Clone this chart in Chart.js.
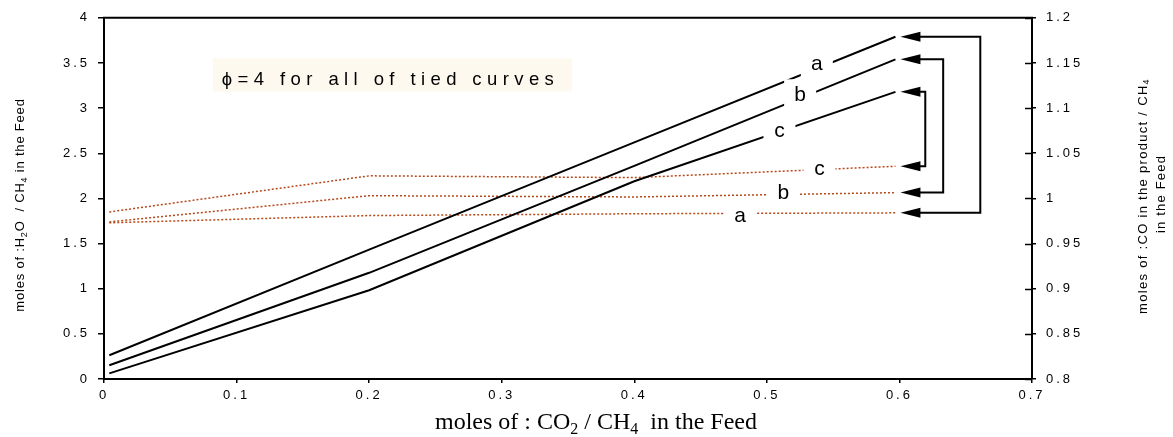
<!DOCTYPE html>
<html>
<head>
<meta charset="utf-8">
<title>CO2 / CH4 feed ratio</title>
<script src="https://cdn.jsdelivr.net/npm/chart.js@4.4.1/dist/chart.umd.min.js"></script>
<style>
  html, body { margin: 0; padding: 0; background: #fff; }
  canvas { display: block; }
</style>
</head>
<body>
<canvas id="chart" width="1173" height="437"></canvas>
<script>
const feedRatio = [0.004, 0.2, 0.4, 0.597];
const waterA = [0.263, 1.432, 2.62, 3.79];
const waterB = [0.153, 1.176, 2.36, 3.54];
const waterC = [0.062, 0.983, 2.19, 3.18];
const coA = [0.973, 0.981, 0.983, 0.984];
const coB = [0.974, 1.003, 1.0016, 1.0064];
const coC = [0.985, 1.025, 1.023, 1.0356];
const curveNames = ["a", "b", "c"];

const xTickValues = [0, 0.1, 0.2, 0.3, 0.4, 0.5, 0.6, 0.7];
const leftTickValues = [0, 0.5, 1, 1.5, 2, 2.5, 3, 3.5, 4];
const rightTickValues = [0.8, 0.85, 0.9, 0.95, 1, 1.05, 1.1, 1.15, 1.2];

const SANS = "'Liberation Sans', Arial, sans-serif";
const SERIF = "'Liberation Serif', 'Times New Roman', serif";
const DOT_COLOR = "#b8481a";

function el(id) {
  return document.getElementById(id);
}

function points(ys) {
  return feedRatio.map((x, i) => ({ x, y: ys[i] }));
}

function fmt(v) {
  return String(Math.round(v * 100) / 100);
}

function fixedTicks(values) {
  return (scale) => {
    scale.ticks = values.map((v) => ({ value: v }));
  };
}

// label anchors in data units; the boxes blank out the curves under them
const curveLabels = [
  { text: curveNames[0], axis: "y", x: 0.5377, y: 3.488 },
  { text: curveNames[1], axis: "y", x: 0.5251, y: 3.142 },
  { text: curveNames[2], axis: "y", x: 0.5095, y: 2.74 },
  { text: curveNames[2], axis: "y2", x: 0.5397, y: 1.032 },
  { text: curveNames[1], axis: "y2", x: 0.5125, y: 1.0057 },
  { text: curveNames[0], axis: "y2", x: 0.4798, y: 0.9808 },
];

// solid dataset -> dotted dataset, x of the vertical connector
const brackets = [
  { from: 0, to: 3, x: 0.661 },
  { from: 1, to: 4, x: 0.633 },
  { from: 2, to: 5, x: 0.6195 },
];

function drawRich(ctx, parts, cx, baseY, size, family, spacing) {
  const subSize = Math.round(size * 0.68);
  ctx.letterSpacing = spacing + "px";
  let total = 0;
  const widths = parts.map((p) => {
    ctx.font = `${p.sub ? subSize : size}px ${family}`;
    const w = ctx.measureText(p.t).width;
    total += w;
    return w;
  });
  let x = cx - total / 2;
  ctx.textAlign = "left";
  ctx.textBaseline = "alphabetic";
  parts.forEach((p, i) => {
    ctx.font = `${p.sub ? subSize : size}px ${family}`;
    ctx.fillText(p.t, x, p.sub ? baseY + size * 0.22 : baseY);
    x += widths[i];
  });
}

function drawArrowHead(ctx, tipX, y) {
  ctx.beginPath();
  ctx.moveTo(tipX, y);
  ctx.lineTo(tipX + 20, y - 5);
  ctx.lineTo(tipX + 20, y + 5);
  ctx.closePath();
  ctx.fill();
}

const plotDecor = {
  id: "plotDecor",
  beforeDraw(chart) {
    chart.ctx.letterSpacing = "3px";
  },
  beforeDatasetsDraw(chart) {
    const { ctx, scales } = chart;
    const xs = scales.x;
    const ys = scales.y;
    const left = xs.getPixelForValue(0.0821);
    const right = xs.getPixelForValue(0.3531);
    const top = ys.getPixelForValue(3.551);
    const bottom = ys.getPixelForValue(3.184);
    ctx.save();
    ctx.fillStyle = "#fdf9ef";
    ctx.fillRect(left, top, right - left, bottom - top);
    ctx.fillStyle = "#000";
    ctx.letterSpacing = "5.4px";
    ctx.font = `18.5px ${SANS}`;
    ctx.textAlign = "left";
    ctx.textBaseline = "alphabetic";
    ctx.fillText("ϕ=4 for all of tied curves", xs.getPixelForValue(0.0889), ys.getPixelForValue(3.255));
    ctx.restore();
  },
  afterDatasetsDraw(chart) {
    const { ctx, scales } = chart;
    ctx.save();
    ctx.letterSpacing = "0px";
    ctx.font = `21px ${SANS}`;
    ctx.textAlign = "center";
    ctx.textBaseline = "middle";
    for (const lb of curveLabels) {
      const px = scales.x.getPixelForValue(lb.x);
      const py = scales[lb.axis].getPixelForValue(lb.y);
      ctx.fillStyle = "#fff";
      ctx.fillRect(px - 16, py - 16, 32, 34);
      ctx.fillStyle = "#000";
      ctx.fillText(lb.text, px, py);
    }
    ctx.restore();
  },
  afterDraw(chart) {
    const { ctx, chartArea, scales } = chart;
    ctx.save();
    ctx.letterSpacing = "0px";
    ctx.strokeStyle = "#000";
    ctx.fillStyle = "#000";

    ctx.lineWidth = 2;
    ctx.beginPath();
    ctx.moveTo(chartArea.left - 1, chartArea.top);
    ctx.lineTo(chartArea.right + 1, chartArea.top);
    ctx.stroke();

    ctx.lineWidth = 1.5;
    for (const v of rightTickValues) {
      const y = Math.round(scales.y2.getPixelForValue(v)) + 0.5;
      ctx.beginPath();
      ctx.moveTo(chartArea.right - 7, y);
      ctx.lineTo(chartArea.right, y);
      ctx.stroke();
    }

    const tipX = scales.x.getPixelForValue(0.6) + 1;
    ctx.lineWidth = 2;
    for (const b of brackets) {
      const m1 = chart.getDatasetMeta(b.from).data;
      const m2 = chart.getDatasetMeta(b.to).data;
      const y1 = m1[m1.length - 1].y;
      const y2 = m2[m2.length - 1].y;
      const bx = scales.x.getPixelForValue(b.x);
      ctx.beginPath();
      ctx.moveTo(tipX + 18, y1);
      ctx.lineTo(bx, y1);
      ctx.lineTo(bx, y2);
      ctx.lineTo(tipX + 18, y2);
      ctx.stroke();
      drawArrowHead(ctx, tipX, y1);
      drawArrowHead(ctx, tipX, y2);
    }

    drawRich(ctx, [
      { t: "moles of : CO" }, { t: "2", sub: true }, { t: " / CH" }, { t: "4", sub: true }, { t: "  in the Feed" },
    ], 596, 429, 24, SERIF, 0);

    ctx.save();
    ctx.translate(24, 205);
    ctx.rotate(-Math.PI / 2);
    drawRich(ctx, [
      { t: "moles of :H" }, { t: "2", sub: true }, { t: "O  / CH" }, { t: "4", sub: true }, { t: " in the Feed" },
    ], 0, 0, 13, SANS, 0.8);
    ctx.restore();

    ctx.save();
    ctx.translate(1146.5, 196);
    ctx.rotate(-Math.PI / 2);
    drawRich(ctx, [
      { t: "moles of :CO in the product / CH" }, { t: "4", sub: true },
    ], 0, 0, 13, SANS, 1.3);
    ctx.restore();

    ctx.save();
    ctx.translate(1165, 194);
    ctx.rotate(-Math.PI / 2);
    drawRich(ctx, [{ t: "in the Feed" }], 0, 0, 13, SANS, 1.2);
    ctx.restore();

    ctx.restore();
    chart.ctx.letterSpacing = "0px";
  },
};

function solidSet(label, ys) {
  return {
    label,
    data: points(ys),
    yAxisID: "y",
    borderColor: "#000",
    borderWidth: 2,
    pointRadius: 0,
    tension: 0,
  };
}

function dottedSet(label, ys) {
  return {
    label,
    data: points(ys),
    yAxisID: "y2",
    borderColor: DOT_COLOR,
    borderWidth: 1.5,
    borderDash: [2, 2],
    pointRadius: 0,
    tension: 0,
  };
}

const tickFont = { family: SANS, size: 13 };

new Chart(el("chart").getContext("2d"), {
  type: "line",
  data: {
    datasets: [
      solidSet("H2O a", waterA),
      solidSet("H2O b", waterB),
      solidSet("H2O c", waterC),
      dottedSet("CO a", coA),
      dottedSet("CO b", coB),
      dottedSet("CO c", coC),
    ],
  },
  options: {
    responsive: false,
    animation: false,
    events: [],
    layout: { padding: { top: 14, left: 0, right: 0, bottom: 0 } },
    plugins: { legend: { display: false }, tooltip: { enabled: false } },
    scales: {
      x: {
        type: "linear",
        min: 0,
        max: 0.7,
        afterBuildTicks: fixedTicks(xTickValues),
        afterFit: (s) => { s.height = 58; },
        ticks: { callback: fmt, font: tickFont, color: "#000", padding: 5, maxRotation: 0 },
        grid: { drawOnChartArea: false, drawTicks: true, tickLength: 4, color: "#000", lineWidth: 1.5 },
        border: { color: "#000", width: 2 },
      },
      y: {
        type: "linear",
        position: "left",
        min: 0,
        max: 4,
        afterBuildTicks: fixedTicks(leftTickValues),
        afterFit: (s) => { s.width = 104; },
        ticks: { callback: fmt, font: tickFont, color: "#000", padding: 8 },
        grid: { drawOnChartArea: false, drawTicks: true, tickLength: 6, color: "#000", lineWidth: 1.5 },
        border: { color: "#000", width: 2 },
      },
      y2: {
        type: "linear",
        position: "right",
        min: 0.8,
        max: 1.2,
        afterBuildTicks: fixedTicks(rightTickValues),
        afterFit: (s) => { s.width = 141; },
        ticks: { callback: fmt, font: tickFont, color: "#000", padding: 10 },
        grid: { drawOnChartArea: false, drawTicks: true, tickLength: 4, color: "#000", lineWidth: 1.5 },
        border: { color: "#000", width: 2 },
      },
    },
  },
  plugins: [plotDecor],
});
</script>
</body>
</html>
